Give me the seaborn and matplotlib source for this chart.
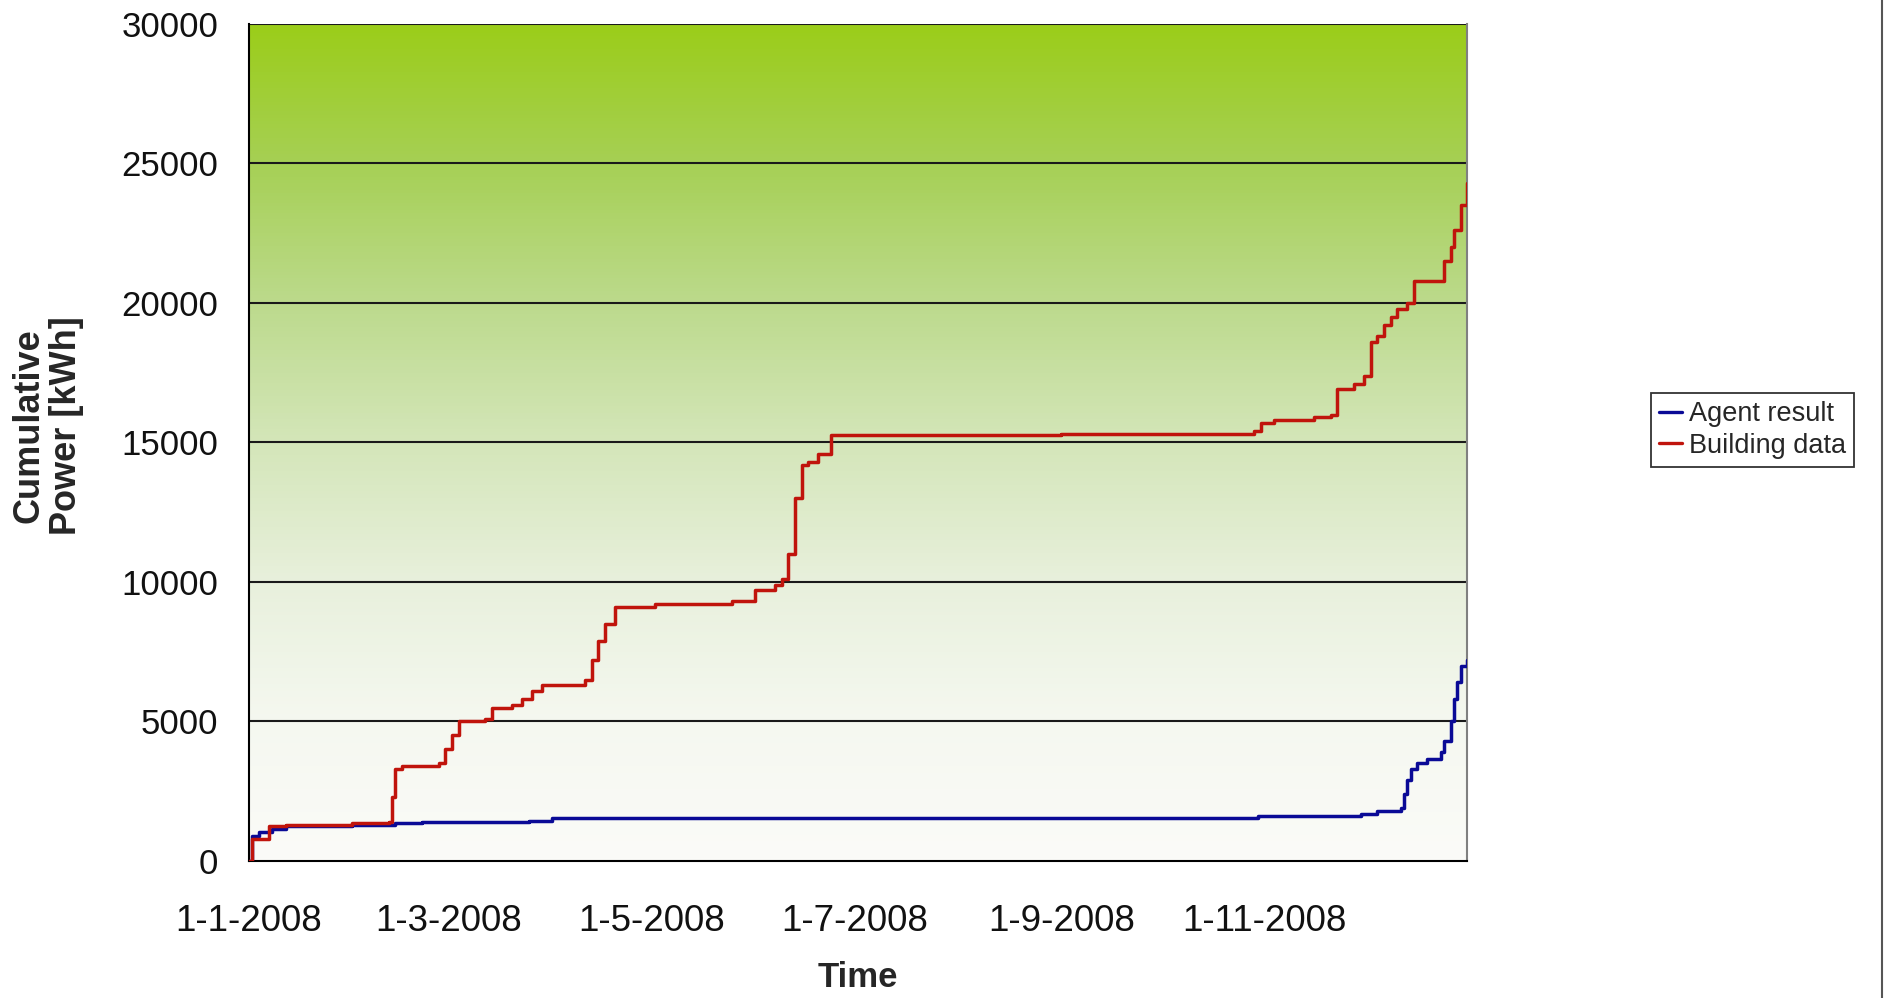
import numpy as np
import pandas as pd
import matplotlib
matplotlib.use('Agg')
import matplotlib.pyplot as plt
from matplotlib.colors import LinearSegmentedColormap
from matplotlib.lines import Line2D
import seaborn as sns

# Data (cumulative kWh, step changes)
agent_dates = ['2008-01-01', '2008-01-02', '2008-01-04', '2008-01-08', '2008-01-12',
               '2008-02-01', '2008-02-14', '2008-02-22', '2008-03-25', '2008-04-01',
               '2008-10-30', '2008-11-30', '2008-12-05', '2008-12-12', '2008-12-13',
               '2008-12-14', '2008-12-15', '2008-12-17', '2008-12-20', '2008-12-24',
               '2008-12-25', '2008-12-27', '2008-12-28', '2008-12-29', '2008-12-30',
               '2009-01-01']
agent_values = [0, 900, 1050, 1150, 1250,
                1300, 1350, 1400, 1450, 1550,
                1600, 1700, 1800, 1900, 2400,
                2900, 3300, 3500, 3650, 3900,
                4300, 5000, 5800, 6400, 7000,
                7200]

building_dates = ['2008-01-01', '2008-01-02', '2008-01-07', '2008-01-12', '2008-02-01',
                  '2008-02-12', '2008-02-13', '2008-02-14', '2008-02-16', '2008-02-27',
                  '2008-02-29', '2008-03-02', '2008-03-04', '2008-03-12', '2008-03-14',
                  '2008-03-20', '2008-03-23', '2008-03-26', '2008-03-29', '2008-04-11',
                  '2008-04-13', '2008-04-15', '2008-04-17', '2008-04-20', '2008-05-02',
                  '2008-05-25', '2008-06-01', '2008-06-07', '2008-06-09', '2008-06-11',
                  '2008-06-13', '2008-06-15', '2008-06-17', '2008-06-20', '2008-06-24',
                  '2008-09-01', '2008-10-29', '2008-10-31', '2008-11-04', '2008-11-16',
                  '2008-11-21', '2008-11-23', '2008-11-28', '2008-12-01', '2008-12-03',
                  '2008-12-05', '2008-12-07', '2008-12-09', '2008-12-11', '2008-12-14',
                  '2008-12-16', '2008-12-25', '2008-12-27', '2008-12-28', '2008-12-30',
                  '2009-01-01']
building_values = [0, 800, 1250, 1300, 1350,
                   1400, 2300, 3300, 3400, 3500,
                   4000, 4500, 5000, 5100, 5500,
                   5600, 5800, 6100, 6300, 6500,
                   7200, 7900, 8500, 9100, 9200,
                   9300, 9700, 9900, 10100, 11000,
                   13000, 14200, 14300, 14600, 15250,
                   15300, 15400, 15700, 15800, 15900,
                   16000, 16900, 17100, 17400, 18600,
                   18800, 19200, 19500, 19800, 20000,
                   20800, 21500, 22000, 22600, 23500,
                   24300]

series_names = ['Agent result', 'Building data']
series_colors = ['#0a0a96', '#c0140c']

df = pd.concat([
    pd.DataFrame({'Time': pd.to_datetime(agent_dates), 'Power': agent_values, 'Series': series_names[0]}),
    pd.DataFrame({'Time': pd.to_datetime(building_dates), 'Power': building_values, 'Series': series_names[1]}),
], ignore_index=True)

sns.set_theme(style='white')
plt.rcParams['font.family'] = ['Liberation Sans', 'DejaVu Sans']

fig = plt.figure(figsize=(18.86, 9.98), dpi=100)
ax = fig.add_axes([0.132, 0.1373, 0.646, 0.8387])

# Gradient background (white at bottom -> green at top)
cmap = LinearSegmentedColormap.from_list('bg', [
    (0.0, '#fbfbf8'), (0.167, '#f5f8f0'), (0.333, '#e8f0dc'), (0.5, '#d4e6b9'),
    (0.667, '#bcda8c'), (0.833, '#a6d055'), (1.0, '#9bcd19')])
grad = np.linspace(0, 1, 256).reshape(-1, 1)
ax.imshow(grad, cmap=cmap, origin='lower', aspect='auto',
          extent=[0, 1, 0, 1], transform=ax.transAxes, zorder=0)

sns.lineplot(data=df, x='Time', y='Power', hue='Series', palette=series_colors,
             hue_order=series_names, drawstyle='steps-post', linewidth=2.5,
             ax=ax, legend=False, zorder=3, estimator=None)

ax.set_xlim(pd.Timestamp('2008-01-01'), pd.Timestamp('2009-01-01'))
ax.set_ylim(0, 30000)
ax.set_yticks(range(0, 30001, 5000))
xt = pd.to_datetime(['2008-01-01', '2008-03-01', '2008-05-01', '2008-07-01',
                     '2008-09-01', '2008-11-01', '2009-01-01'])
ax.set_xticks(xt)
ax.set_xticklabels([f'{d.day}-{d.month}-{d.year}' for d in xt[:-1]] + [''])

ax.grid(False)
for v in range(5000, 30001, 5000):
    ax.axhline(v, color='#1a1a1a', lw=1.5, zorder=2)

ax.tick_params(axis='both', which='major', direction='out', length=9, width=1.3,
               color='black', labelcolor='#111111')
ax.tick_params(axis='y', labelsize=25, pad=13)
ax.tick_params(axis='x', labelsize=26.5, pad=22)
for s in ['left', 'bottom']:
    ax.spines[s].set_color('black')
    ax.spines[s].set_linewidth(1.5)
ax.spines['right'].set_color('#808080')
ax.spines['right'].set_linewidth(1.5)
ax.spines['top'].set_visible(False)

ax.set_xlabel('Time', fontsize=25, fontweight='bold')
ax.xaxis.set_label_coords(0.5, -0.12)
ax.set_ylabel('Cumulative\nPower [kWh]', fontsize=26, fontweight='bold', linespacing=1.1)
ax.yaxis.set_label_coords(-0.135, 0.52)

handles = [Line2D([0], [0], color=c, lw=2.4) for c in series_colors]
leg = fig.legend(handles, series_names, loc='center left', bbox_to_anchor=(0.8755, 0.569),
                 fontsize=19.5, frameon=True, fancybox=False, handlelength=0.85,
                 handletextpad=0.25, borderpad=0.3, labelspacing=0.2, borderaxespad=0)
leg.get_frame().set_edgecolor('black')
leg.get_frame().set_linewidth(1.3)

# chart-area border on the right
fig.add_artist(Line2D([0.998, 0.998], [0, 1], transform=fig.transFigure, color='#555555', lw=1.5))

fig.savefig('out.png', dpi=100, facecolor='white')
